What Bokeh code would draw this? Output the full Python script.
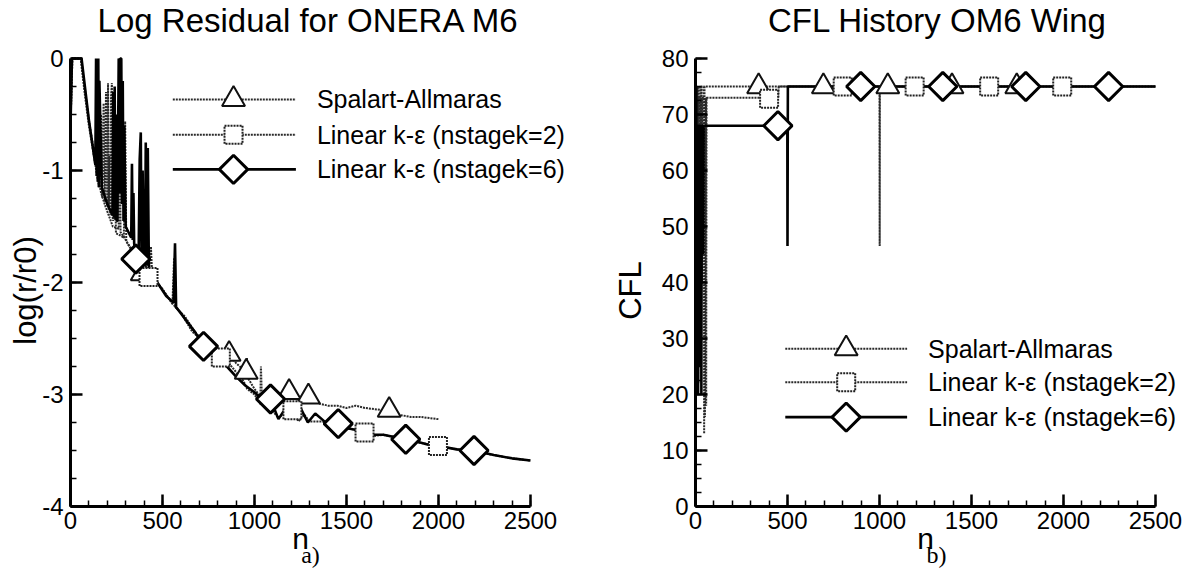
import numpy as np
from bokeh.plotting import figure
from bokeh.layouts import row
from bokeh.models import Label, Range1d, SingleIntervalTicker, PrintfTickFormatter
from bokeh.embed import file_html
from bokeh.resources import INLINE

# ---------------- data: log residual (panel a) ----------------
sa_n = [0, 10, 58, 80, 100, 120, 140, 166, 190, 230, 262, 265, 268, 272, 300, 320, 360, 390, 420, 445,
        500, 554, 563, 570, 620, 680, 730, 780, 830, 862, 900, 955, 959, 963, 1000, 1032, 1035, 1040,
        1080, 1120, 1188, 1240, 1293, 1350, 1400, 1450, 1500, 1550, 1600, 1650, 1700, 1732, 1780,
        1850, 1900, 1950, 2000]
sa_r = [-0.6, 0, 0, -0.3, -0.55, -0.75, -0.95, -1.2, -1.32, -1.5, -1.52, 0, -0.3, -1.55, -1.62, -1.68,
        -1.78, -1.92, -1.9, -1.95, -2.06, -2.19, -1.78, -2.22, -2.3, -2.45, -2.53, -2.58, -2.63, -2.64,
        -2.72, -2.8, -2.67, -2.85, -2.95, -3.02, -2.75, -3.03, -3.02, -3.0, -2.98, -3.02, -3.02, -3.08,
        -3.1, -3.1, -3.12, -3.1, -3.12, -3.13, -3.14, -3.14, -3.18, -3.2, -3.2, -3.21, -3.22]

ke2_n = [0, 10, 55, 80, 100, 120, 145, 157, 166, 172, 180, 186, 193, 200, 204, 208, 211, 216, 220, 225,
         229, 232, 238, 247, 270, 290, 297, 303, 310, 340, 380, 424, 437, 445, 500, 554, 600, 662,
         734, 780, 817, 860, 900, 940, 960, 1000, 1030, 1060, 1100, 1131, 1170, 1206, 1239, 1270,
         1300, 1365, 1420, 1480, 1540, 1598, 1650, 1700, 1760, 1830, 1900, 1997, 2100, 2200, 2300,
         2400, 2500]
ke2_r = [-0.6, 0, 0, -0.35, -0.6, -0.8, -1.05, -1.15, -0.5, -1.24, -0.4, -1.28, -0.3, -1.32, -0.22,
         -1.35, -0.87, -1.4, -0.35, -0.22, -1.42, -1.45, -0.6, -1.56, -1.58, -1.6, -0.56, -1.62,
         -1.65, -1.72, -1.85, -1.95, -1.68, -1.97, -2.06, -2.19, -2.27, -2.44, -2.54, -2.6, -2.67,
         -2.72, -2.8, -2.88, -2.95, -3.0, -3.08, -3.1, -3.15, -3.21, -3.15, -3.14, -3.24, -3.18,
         -3.24, -3.24, -3.26, -3.3, -3.31, -3.34, -3.37, -3.36, -3.38, -3.41, -3.43, -3.46, -3.49,
         -3.51, -3.54, -3.57, -3.59]

ke6_n = [0, 8, 60, 100, 135, 139, 142, 145, 148, 151, 154, 157, 170, 200, 228, 232, 236, 240, 244,
         248, 252, 255, 262, 266, 270, 276, 280, 284, 288, 292, 300, 330, 334, 338, 342, 346, 352,
         360, 370, 376, 382, 386, 392, 398, 405, 409, 414, 420, 426, 440, 480, 520, 560, 568, 574,
         620, 680, 723, 760, 800, 850, 900, 950, 1000, 1050, 1087, 1130, 1170, 1210, 1250, 1290,
         1330, 1380, 1420, 1455, 1500, 1560, 1600, 1640, 1700, 1760, 1822, 1880, 1950, 2000, 2100,
         2193, 2300, 2400, 2500]
ke6_r = [-0.6, 0, 0, -0.55, -0.95, 0, -1.05, -0.1, -1.1, 0, -1.15, -0.2, -1.15, -1.3, -1.4, -0.3,
         -1.42, -0.25, -1.44, -0.5, -1.45, -1.45, 0, -1.2, 0, 0, -1.3, -0.2, -1.45, -0.6, -1.5, -1.6,
         -0.94, -1.62, -1.2, -1.65, -1.75, -1.78, -1.8, -0.9, -0.66, -1.82, -1.0, -1.83, -1.84,
         -0.75, -1.85, -0.8, -1.88, -1.92, -2.02, -2.12, -2.18, -1.65, -2.22, -2.32, -2.45, -2.57,
         -2.62, -2.65, -2.75, -2.84, -2.92, -2.98, -3.06, -3.04, -3.22, -3.12, -3.17, -3.12, -3.25,
         -3.17, -3.24, -3.26, -3.26, -3.3, -3.32, -3.34, -3.36, -3.36, -3.38, -3.4, -3.42, -3.45,
         -3.46, -3.49, -3.5, -3.54, -3.57, -3.59]

sa_mark_n = [390, 862, 955, 1188, 1293, 1732]
sa_mark_r = [-1.92, -2.64, -2.8, -2.98, -3.02, -3.14]
ke2_mark_n = [424, 817, 1206, 1598, 1997]
ke2_mark_r = [-1.95, -2.67, -3.14, -3.34, -3.46]
ke6_mark_n = [355, 723, 1087, 1455, 1822, 2193]
ke6_mark_r = [-1.79, -2.57, -3.04, -3.26, -3.4, -3.5]

# ---------------- data: CFL history (panel b) ----------------
cfl_sa_n = [0, 3, 5, 7, 11, 13, 15, 19, 21, 23, 29, 31, 33, 45, 47, 49, 55, 2500]
cfl_sa = [75, 75, 20, 75, 75, 30, 75, 75, 25, 75, 75, 50, 75, 75, 13, 75, 75, 75]
cfl_ke2_n = [0, 5, 7, 9, 13, 15, 17, 23, 25, 27, 33, 35, 37, 49, 51, 56, 58, 60, 450, 452,
             1000, 1001, 1002, 2500]
cfl_ke2 = [75, 75, 30, 73, 73, 22, 73, 73, 28, 73, 73, 40, 73, 73, 16, 73, 18, 73, 73, 75,
           75, 46.5, 75, 75]
cfl_ke6_n = [0, 4, 6, 8, 12, 14, 16, 22, 24, 26, 30, 32, 34, 40, 42, 44, 60, 499, 500, 502, 2500]
cfl_ke6 = [75, 75, 35, 68, 68, 20, 68, 68, 25, 68, 68, 20, 68, 68, 45, 68, 68, 68, 46.5, 75, 75]

cfl_sa_mark_n = [343, 695, 1045, 1394, 1746]
cfl_sa_mark = [75, 75, 75, 75, 75]
cfl_ke2_mark_n = [400, 800, 1191, 1596, 1993]
cfl_ke2_mark = [72.8, 75, 75, 75, 75]
cfl_ke6_mark_n = [448, 898, 1344, 1795, 2245]
cfl_ke6_mark = [68, 75, 75, 75, 75]

series_labels = ["Spalart-Allmaras", "Linear k-\u03b5 (nstagek=2)", "Linear k-\u03b5 (nstagek=6)"]

SANS = "Liberation Sans"
SERIF = "Liberation Serif"

LINE_STYLES = [
    dict(line_color="#2a2a2a", line_width=2, line_dash="2 1"),
    dict(line_color="#2a2a2a", line_width=2, line_dash="2 1"),
    dict(line_color="black", line_width=2.6),
]
MARKER_STYLES = [
    dict(marker="triangle", size=23, fill_color="white", line_color="#111111", line_width=2),
    dict(marker="square", size=18, fill_color="white", line_color="#222222", line_width=2,
         line_dash="2 1"),
    dict(marker="square", angle=np.pi / 4, size=20, fill_color="white", line_color="black",
         line_width=3),
]

# ---------------- layout geometry (pixels from the top-left of the row) ----------------
HEIGHT = 570
AX_TOP = 58       # y of the upper end of the value axis
AX_BOT = 506      # y of the n axis
XMAX = 2500


class Geo:
    def __init__(self, left, width, ax_left, ax_px, y0, y1):
        self.left, self.width = left, width
        self.ax_left, self.ax_px = ax_left, ax_px
        self.y0, self.y1 = y0, y1

    def x(self, px):
        return (px - self.ax_left) * XMAX / self.ax_px

    def y(self, py):
        return self.y0 + (AX_BOT - py) * (self.y1 - self.y0) / (AX_BOT - AX_TOP)


def make_fig(g, yint):
    p = figure(width=g.width, height=HEIGHT, title=None,
               x_range=Range1d(g.x(g.left), g.x(g.left + g.width)),
               y_range=Range1d(g.y(HEIGHT), g.y(0)),
               output_backend="svg", toolbar_location=None,
               min_border_left=0, min_border_right=0, min_border_top=0, min_border_bottom=0)
    p.outline_line_color = None
    p.xgrid.grid_line_color = None
    p.ygrid.grid_line_color = None
    p.xaxis.ticker = SingleIntervalTicker(interval=500, num_minor_ticks=5)
    p.yaxis.ticker = SingleIntervalTicker(interval=yint, num_minor_ticks=4)
    p.yaxis.formatter = PrintfTickFormatter(format="%d")
    p.xaxis.bounds = (0, XMAX)
    p.yaxis.bounds = (g.y0, g.y1)
    p.xaxis.fixed_location = g.y0
    p.yaxis.fixed_location = 0
    for ax in (p.xaxis[0], p.yaxis[0]):
        ax.axis_line_width = 3
        ax.axis_line_color = "black"
        ax.major_tick_in = 12
        ax.major_tick_out = 0
        ax.minor_tick_in = 6
        ax.minor_tick_out = 0
        ax.major_tick_line_width = 2.5
        ax.minor_tick_line_width = 1.5
        ax.major_tick_line_color = "black"
        ax.minor_tick_line_color = "black"
        ax.major_label_text_font = SANS
        ax.major_label_text_font_size = "24px"
        ax.major_label_text_color = "black"
    p.xaxis.major_label_standoff = 5
    p.yaxis.major_label_standoff = 7
    return p


def add_label(p, x, y, text, size, font=SANS, angle=0.0, align="center"):
    p.add_layout(Label(x=x, y=y, text=text, text_font=font, text_font_size=size,
                       text_color="black", angle=angle, text_align=align,
                       text_baseline="middle"))


def add_legend(p, x0, x1, xm, xt, ys):
    for i, (lab, yy) in enumerate(zip(series_labels, ys)):
        p.line([x0, x1], [yy, yy], **LINE_STYLES[i])
        p.scatter([xm], [yy], **MARKER_STYLES[i])
        add_label(p, xt, yy, lab, "25px", align="left")


def decorate(p, g, title, title_cx, ylab, ylab_cx, caption, caption_cx):
    add_label(p, g.x(title_cx), g.y(20), title, "33px")
    add_label(p, g.x(ylab_cx), g.y(290), ylab, "31px", angle=np.pi / 2)
    mid = g.ax_left + g.ax_px / 2
    add_label(p, g.x(mid), g.y(538), "n", "30px")
    add_label(p, g.x(caption_cx), g.y(554), caption, "24px", font=SERIF)


# ---------------- panel a ----------------
g1 = Geo(0, 608, 70, 460, -4, 0)
p1 = make_fig(g1, 1)
for i, (xs, ys) in enumerate([(sa_n, sa_r), (ke2_n, ke2_r), (ke6_n, ke6_r)]):
    p1.line(xs, ys, **LINE_STYLES[i])
for i, (xs, ys) in enumerate([(sa_mark_n, sa_mark_r), (ke2_mark_n, ke2_mark_r),
                              (ke6_mark_n, ke6_mark_r)]):
    p1.scatter(xs, ys, **MARKER_STYLES[i])
add_legend(p1, 556, 1225, 886, 1339, [-0.365, -0.68, -0.99])
decorate(p1, g1, "Log Residual for ONERA M6", 308, "log(r/r0)", 25, "a)", 310)

# ---------------- panel b ----------------
g2 = Geo(608, 577, 695, 460, 0, 80)
p2 = make_fig(g2, 10)
for i, (xs, ys) in enumerate([(cfl_sa_n, cfl_sa), (cfl_ke2_n, cfl_ke2), (cfl_ke6_n, cfl_ke6)]):
    p2.line(xs, ys, **LINE_STYLES[i])
for i, (xs, ys) in enumerate([(cfl_sa_mark_n, cfl_sa_mark), (cfl_ke2_mark_n, cfl_ke2_mark),
                              (cfl_ke6_mark_n, cfl_ke6_mark)]):
    p2.scatter(xs, ys, **MARKER_STYLES[i])
add_legend(p2, 488, 1150, 819, 1264, [28.18, 22.17, 15.96])
decorate(p2, g2, "CFL History OM6 Wing", 937, "CFL", 630, "b)", 936)

layout = row(p1, p2)
open("out.html", "w").write(file_html(layout, INLINE))
